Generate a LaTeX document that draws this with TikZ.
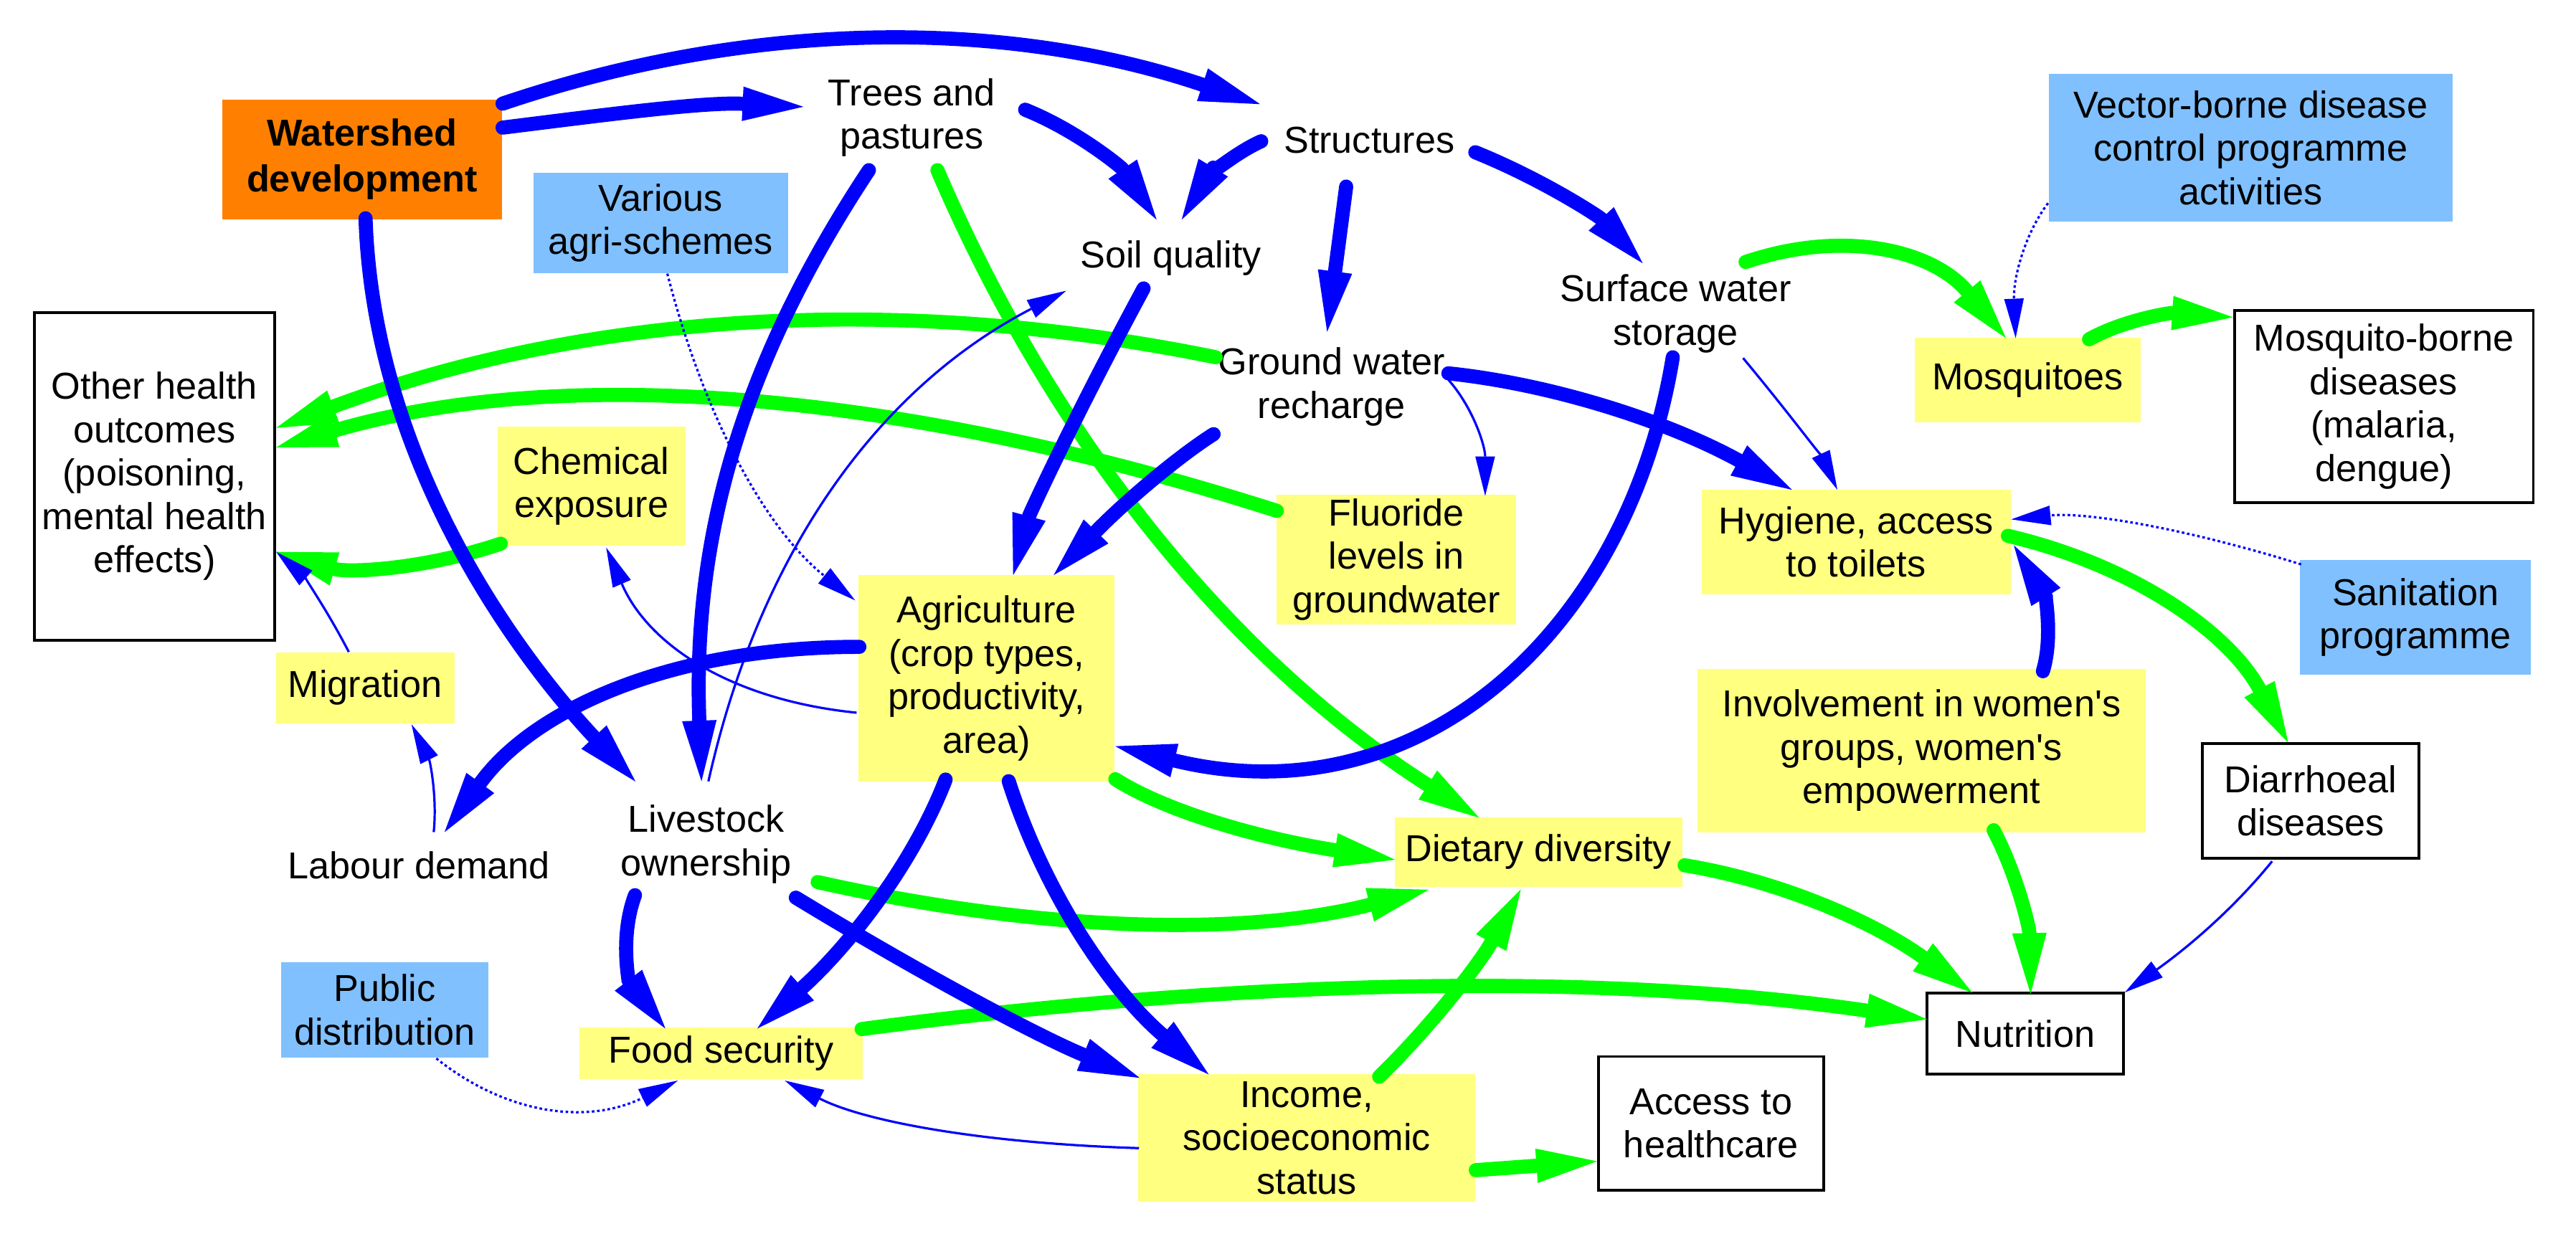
\documentclass[tikz,border=0pt]{standalone}
\usepackage{fontspec}
\setmainfont{Liberation Sans}[Ligatures=TeXOff]
\usetikzlibrary{arrows.meta,calc}
\definecolor{cblue}{RGB}{0,0,255}
\definecolor{cgreen}{RGB}{0,255,0}
\definecolor{cyellow}{RGB}{255,255,128}
\definecolor{clblue}{RGB}{128,192,255}
\definecolor{corange}{RGB}{255,128,0}
\begin{document}
\begin{tikzpicture}[x=0.5pt,y=-0.5pt,
  every node/.style={font=\fontsize{11.4}{13.2}\selectfont, align=center, inner sep=0pt},
  ybox/.style={fill=cyellow},
  bbox/.style={fill=clblue},
  wbox/.style={draw=black, line width=0.85pt, fill=white},
  bigtip/.style={-{Triangle[length=18.5pt,width=10.5pt,line width=0pt]}},
  smalltip/.style={-{Triangle[length=12pt,width=6pt,line width=0pt]}},
  bluebig/.style={draw=cblue, line width=4.3pt, line cap=round, bigtip},
  greenbig/.style={draw=cgreen, line width=4.3pt, line cap=round, bigtip},
  bluethin/.style={draw=cblue, line width=0.7pt, smalltip},
  bluedot/.style={draw=cblue, line width=0.7pt, smalltip, dash pattern=on 0.8pt off 0.8pt},
]
\fill[white] (0,0) rectangle (1568,754);
\useasboundingbox (0,0) rectangle (1568,754);

% ---------- nodes ----------
\node[fill=corange, minimum width=85pt, minimum height=36.5pt,
      font=\fontsize{11.4}{14}\selectfont\bfseries] (ws) at (220.5,97) {Watershed\\development};
\node[bbox, minimum width=77.5pt, minimum height=30.5pt] (agri) at (402.2,135.7) {Various\\agri-schemes};
\node[wbox, minimum width=73pt, minimum height=99.7pt] (oho) at (94,290) {Other health\\outcomes\\(poisoning,\\mental health\\effects)};
\node (trees) at (555,71.5) {Trees and\\pastures};
\node (struct) at (833.4,85.3) {Structures};
\node (soil) at (712.6,157.2) {Soil quality};
\node (surf) at (1020,190.9) {Surface water\\storage};
\node (gw) at (810.6,235.5) {Ground water\\recharge};
\node[ybox, minimum width=68.75pt, minimum height=25.75pt] (mosq) at (1234.3,231.5) {Mosquitoes};
\node[bbox, minimum width=123pt, minimum height=45pt] (vbd) at (1370,90) {Vector-borne disease\\control programme\\activities};
\node[wbox, minimum width=91pt, minimum height=58.5pt] (mbd) at (1451,247.5) {Mosquito-borne\\diseases\\(malaria,\\dengue)};
\node[ybox, minimum width=57.2pt, minimum height=36.4pt] (chem) at (360,296) {Chemical\\exposure};
\node[ybox, minimum width=54.25pt, minimum height=21.5pt] (migr) at (222.3,418.8) {Migration};
\node (labour) at (255,526.6) {Labour demand};
\node (live) at (429.8,514) {Livestock\\ownership};
\node[ybox, minimum width=78pt, minimum height=63pt] (agr) at (600.5,413) {Agriculture\\(crop types,\\productivity,\\area)};
\node[ybox, minimum width=73pt, minimum height=39.5pt] (fluor) at (850,340.5) {Fluoride\\levels in\\groundwater};
\node[ybox, minimum width=94pt, minimum height=32pt] (hyg) at (1129.8,330) {Hygiene, access\\to toilets};
\node[bbox, minimum width=70.25pt, minimum height=34.8pt] (sanit) at (1470.3,375.8) {Sanitation\\programme};
\node[ybox, minimum width=136.25pt, minimum height=49.65pt] (inv) at (1169.6,457) {Involvement in women's\\groups, women's\\empowerment};
\node[wbox, minimum width=66pt, minimum height=35pt] (diar) at (1406.5,487.6) {Diarrhoeal\\diseases};
\node[ybox, minimum width=87.5pt, minimum height=21.25pt] (diet) at (936.5,518.7) {Dietary diversity};
\node[wbox, minimum width=59.75pt, minimum height=24.8pt] (nutr) at (1232.8,629.3) {Nutrition};
\node[wbox, minimum width=68.5pt, minimum height=40.8pt] (acc) at (1041.5,684) {Access to\\healthcare};
\node[ybox, minimum width=102.5pt, minimum height=39pt] (inc) at (795.4,692.8) {Income,\\socioeconomic\\status};
\node[ybox, minimum width=86.15pt, minimum height=15.75pt] (food) at (438.9,641.3) {Food security};
\node[bbox, minimum width=63.2pt, minimum height=29.1pt] (pub) at (234.2,614.8) {Public\\distribution};

% ---------- green arrows ----------
\draw[greenbig] ($(gw)+(-70.6,-18)$) .. controls +(-197.3,-40.3) and +(184.5,-68.9) .. ($(oho.east)+(0.3,-29.5)$);
\draw[greenbig] ($(fluor.west)+(0.6,-29.5)$) .. controls +(-235.9,-75.3) and +(170.9,-49.6) .. ($(oho.east)+(0.3,-17.6)$);
\draw[greenbig] ($(chem)+(-55.2,35)$) .. controls +(-48.3,16.1) and +(43.4,12.7) .. ($(oho.east)+(0.3,46)$);
\draw[greenbig] ($(trees)+(15.6,32.1)$) .. controls +(72.5,169.1) and +(-147.3,-94.1) .. ($(diet.north)+(-36.2,0.8)$);
\draw[greenbig] ($(surf)+(42.5,-31.4)$) .. controls +(62.4,-20.9) and +(-43.3,-52.1) .. ($(mosq.north)+(-13.3,0.5)$);
\draw[greenbig] ($(mosq.north)+(37.3,1.2)$) .. controls +(20.6,-11.5) and +(-39,-2.7) .. ($(mbd.north west)+(0,5)$);
\draw[greenbig] ($(hyg.east)+(-2,-3.8)$) .. controls +(78.5,18.5) and +(-35.5,-66.1) .. ($(diar.north)+(-13.7,0.4)$);
\draw[greenbig] ($(agr.south east)+(0,-2)$) .. controls +(31.3,19.9) and +(-82.2,-13) .. ($(diet.west)+(0.6,4.7)$);
\draw[greenbig] ($(live)+(67.9,23)$) .. controls +(138.1,31) and +(-109.9,28.1) .. ($(diet.south)+(-66.9,1.3)$);
\draw[greenbig] ($(inc.north)+(44.1,2.1)$) .. controls +(32.6,-31.9) and +(-24.9,44.6) .. ($(diet.south)+(-10.8,1.2)$);
\draw[greenbig] ($(food.east)+(-1,-14.8)$) .. controls +(240.5,-31.8) and +(-192.7,-27.9) .. ($(nutr.west)+(0.8,-8.7)$);
\draw[greenbig] ($(diet.east)+(1,8.1)$) .. controls +(57.7,9.3) and +(-59.9,-43) .. ($(nutr.north west)+(28.3,0.7)$);
\draw[greenbig] ($(inv.south)+(43.9,-1.6)$) .. controls +(14.2,26.9) and +(-0.8,-40.5) .. ($(nutr.north)+(3.2,1.4)$);
\draw[greenbig] ($(inc.east)+(0,19.6)$) -- ($(acc.west)+(0,23)$);

% ---------- thick blue arrows ----------
\draw[bluebig] ($(ws.north east)+(0,3)$) .. controls +(153.4,-51.9) and +(-154.2,-51.9) .. ($(struct)+(-66.4,-21.9)$);
\draw[bluebig] ($(ws.east)+(0,-19.3)$) .. controls +(61.1,-7.6) and +(-61,-3) .. ($(trees)+(-66,-6.5)$);
\draw[bluebig] ($(ws.south)+(2,-1)$) .. controls +(5,150) and +(-70,-75) .. ($(live)+(-43,-38.2)$);
\draw[bluebig] ($(trees)+(69,-4.7)$) .. controls +(32,12.9) and +(-21.3,-31.7) .. ($(soil)+(-8.6,-23.5)$);
\draw[bluebig] ($(struct)+(-65.7,0.7)$) .. controls +(-17.7,7.9) and +(14.5,-23.9) .. ($(soil)+(6.7,-23.5)$);
\draw[bluebig] ($(struct)+(-14,28.3)$) -- ($(gw)+(-2.8,-33.5)$);
\draw[bluebig] ($(struct)+(64.6,7.4)$) .. controls +(41.5,16.8) and +(-26.4,-28.3) .. ($(surf)+(-20.1,-30.6)$);
\draw[bluebig] ($(trees)+(-26.1,32.1)$) .. controls +(-88.3,133.4) and +(-4.7,-130) .. ($(live)+(-2.8,-38.3)$);
\draw[bluebig] ($(soil)+(-16.5,18.4)$) .. controls +(-42.9,79.5) and +(10,-37.1) .. ($(agr.north)+(16.2,0.5)$);
\draw[bluebig] ($(gw)+(-71.9,28.8)$) .. controls +(-24.1,15.4) and +(40.8,-42.1) .. ($(agr.north)+(40.9,0.5)$);
\draw[bluebig] ($(gw)+(71,-8.2)$) .. controls +(65.7,6.9) and +(-73.7,-40.6) .. ($(hyg.north)+(-39,0.6)$);
\draw[bluebig] ($(surf)+(-1.8,26.6)$) .. controls +(-27.5,167.8) and +(184.7,44.7) .. ($(agr.east)+(0,41.3)$);
\draw[bluebig] ($(agr)+(-77.4,-19.2)$) .. controls +(-113.7,0) and +(54.7,-75.2) .. ($(labour)+(15.6,-20)$);
\draw[bluebig] ($(agr.south)+(-24.9,-1.8)$) .. controls +(-19.1,49.7) and +(57.3,-51.9) .. ($(food.north)+(22.1,1)$);
\draw[bluebig] ($(agr.south)+(13.5,-0.8)$) .. controls +(22,68.7) and +(-59.3,-50.9) .. ($(inc.north west)+(43.2,0.7)$);
\draw[bluebig] ($(live)+(-43.3,31)$) .. controls +(-9.5,25.7) and +(-21.9,-28.6) .. ($(food.north)+(-33.9,1)$);
\draw[bluebig] ($(live)+(54.6,32.5)$) .. controls +(81.1,49.3) and +(-58.7,-24) .. ($(inc.north west)+(1.2,2.8)$);
\draw[bluebig] ($(inv.north)+(73.9,1.7)$) .. controls +(6.4,-21.5) and +(18.6,29.9) .. ($(hyg.east)+(1.6,2)$);

% ---------- thin blue arrows ----------
\draw[bluethin] ($(live)+(1.4,-38.3)$) .. controls +(31.3,-140.1) and +(-113.9,59) .. ($(soil)+(-63.6,19.8)$);
\draw[bluethin] ($(agr)+(-79.1,20.9)$) .. controls +(-75.9,-7.7) and +(25.7,59.6) .. ($(chem.south)+(9,0.6)$);
\draw[bluethin] ($(migr.north)+(-10,0)$) .. controls +(-13.9,-26.9) and +(15.8,13.9) .. ($(oho.east)+(0.3,46)$);
\draw[bluethin] ($(labour)+(9,-20)$) .. controls +(2.2,-21.6) and +(11.2,22.4) .. ($(migr.south)+(28.2,0.3)$);
\draw[bluethin] ($(gw)+(71,-4.3)$) .. controls +(15,16.9) and +(0,-30.5) .. ($(fluor.north)+(54,1.3)$);
\draw[bluethin] ($(surf)+(41,27.1)$) .. controls +(30.3,36.4) and +(-8,-17.3) .. ($(hyg.north)+(-11.4,0.6)$);
\draw[bluethin] ($(diar.south)+(-23.5,0.9)$) .. controls +(-21,26) and +(42,-30) .. ($(nutr.north east)+(0,0.5)$);
\draw[bluethin] ($(inc.west)+(0.8,6.2)$) .. controls +(-96,-3) and +(47.9,24.7) .. ($(food.south)+(38.8,0.4)$);

% ---------- dotted blue arrows ----------
\draw[bluedot] ($(agri.south)+(4,0)$) .. controls +(23.4,90.9) and +(-52.9,-42.1) .. ($(agr)+(-80,-47.5)$);
\draw[bluedot] ($(vbd.west)+(0,33.7)$) .. controls +(-14.7,19.5) and +(-1.5,-35.5) .. ($(mosq.north)+(-7.4,0.5)$);
\draw[bluedot] ($(sanit.north west)+(1,3)$) .. controls +(-73.7,-22.9) and +(44.6,-4.5) .. ($(hyg.east)+(0,-13.8)$);
\draw[bluedot] ($(pub.south)+(31.4,0.1)$) .. controls +(44.3,35.3) and +(-53.7,26.4) .. ($(food.south)+(-26.3,0.4)$);
\end{tikzpicture}
\end{document}
